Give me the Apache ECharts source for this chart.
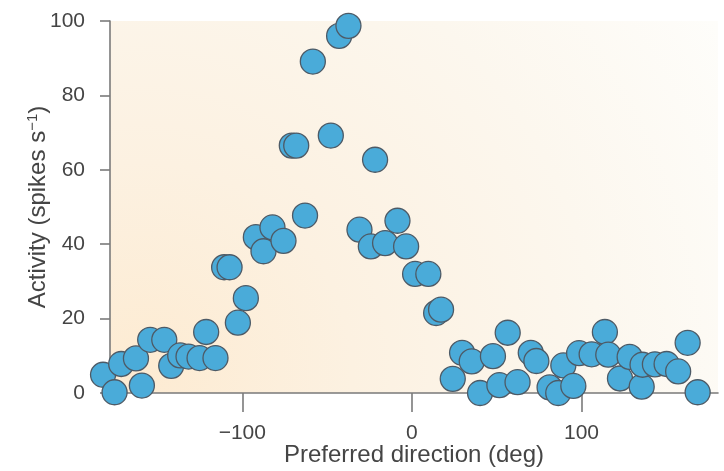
<!DOCTYPE html>
<html>
<head>
<meta charset="utf-8">
<script src="https://cdn.jsdelivr.net/npm/echarts@6/dist/echarts.min.js"></script>
<style>
html,body{margin:0;padding:0;background:#fff;}
#chart{width:724px;height:471px;}
</style>
</head>
<body>
<div id="chart"></div>
<script>
// Preferred direction (deg)
const directions = [
  -182.1, -175.3, -171.4, -162.7, -159.2, -154.3, -146.0, -141.9, -136.6, -131.7,
  -125.2, -121.3, -115.8, -110.7, -107.5, -102.6, -97.9, -92.0, -87.5, -82.2,
  -75.7, -70.8, -68.2, -63.0, -58.4, -47.8, -42.9, -37.4, -30.9, -24.2,
  -21.7, -15.8, -8.5, -3.4, 1.9, 9.7, 14.3, 17.2, 24.1, 29.6,
  35.3, 40.2, 47.8, 51.6, 56.5, 62.3, 70.1, 73.4, 81.2, 86.3,
  89.3, 95.2, 98.6, 106.0, 113.8, 115.8, 122.7, 128.4, 135.5, 136.0,
  143.3, 150.2, 157.0, 162.6, 168.5
];
// Activity (spikes s^-1)
const activity = [
  4.9, 0.2, 7.8, 9.3, 2.0, 14.3, 14.3, 7.3, 10.1, 9.8,
  9.4, 16.4, 9.4, 33.8, 33.8, 18.9, 25.5, 41.9, 38.1, 44.5,
  40.9, 66.5, 66.5, 47.7, 89.1, 69.2, 96.0, 98.7, 43.9, 39.4,
  62.7, 40.3, 46.3, 39.4, 32.0, 32.0, 21.5, 22.4, 3.8, 10.8,
  8.5, 0.0, 9.9, 2.1, 16.2, 2.9, 10.8, 8.6, 1.5, 0.0,
  7.4, 1.9, 10.7, 10.4, 16.4, 10.3, 3.9, 9.7, 1.7, 7.6,
  7.7, 7.8, 5.8, 13.5, 0.2
];
const xTickValues = [-100, 0, 100];
const yTickValues = [0, 20, 40, 60, 80, 100];

const points = directions.map((d, i) => [d, activity[i]]);
const fontFam = '"Liberation Sans", Arial, Helvetica, sans-serif';
const txtColor = '#454545';
const axisColor = '#7a7a7a';

const chart = echarts.init(document.getElementById('chart'), null, {renderer: 'canvas'});
chart.setOption({
  animation: false,
  backgroundColor: '#ffffff',
  grid: {
    left: 110, top: 21, right: 6, bottom: 78,
    outerBoundsMode: 'none',
    containLabel: false,
    show: true,
    borderWidth: 0,
    backgroundColor: {
      type: 'radial', x: 0.05, y: 0.95, r: 1.9,
      colorStops: [
        {offset: 0, color: '#fdebd2'},
        {offset: 0.3, color: '#fcf1e1'},
        {offset: 0.65, color: '#fcf7ee'},
        {offset: 1, color: '#fefefc'}
      ]
    }
  },
  xAxis: {
    type: 'value',
    min: -178, max: 180.5,
    splitLine: {show: false},
    axisLine: {show: true, onZero: false, lineStyle: {color: axisColor, width: 1.6}},
    axisTick: {show: true, inside: false, length: 19, customValues: xTickValues, lineStyle: {color: axisColor, width: 1.6}},
    axisLabel: {
      customValues: xTickValues,
      margin: 30,
      fontSize: 21, color: txtColor, fontFamily: fontFam,
      formatter: v => String(v).replace('-', '\u2212')
    },
    name: 'Preferred direction (deg)',
    nameLocation: 'middle',
    nameGap: 50,
    nameMoveOverlap: false,
    nameTextStyle: {fontSize: 24, color: txtColor, fontFamily: fontFam}
  },
  yAxis: {
    type: 'value',
    min: 0, max: 100, interval: 20,
    splitLine: {show: false},
    axisLine: {show: true, onZero: false, lineStyle: {color: axisColor, width: 1.6}},
    axisTick: {show: true, inside: false, length: 10, lineStyle: {color: axisColor, width: 1.6}},
    axisLabel: {
      margin: 25,
      fontSize: 21, color: txtColor, fontFamily: fontFam,
      formatter: v => (yTickValues.indexOf(v) >= 0 ? String(v) : '')
    },
    name: 'Activity (spikes s{sup|\u22121})',
    nameLocation: 'middle',
    nameGap: 58,
    nameMoveOverlap: false,
    nameTextStyle: {
      fontSize: 24, color: txtColor, fontFamily: fontFam,
      rich: {
        sup: {fontSize: 15, color: txtColor, fontFamily: fontFam, padding: [0, 0, 12, 0]}
      }
    }
  },
  series: [{
    type: 'scatter',
    data: points,
    clip: false,
    symbol: 'circle',
    symbolSize: 25,
    itemStyle: {color: '#4aabd9', borderColor: '#4d5a66', borderWidth: 1.3, opacity: 1}
  }]
});
</script>
</body>
</html>
